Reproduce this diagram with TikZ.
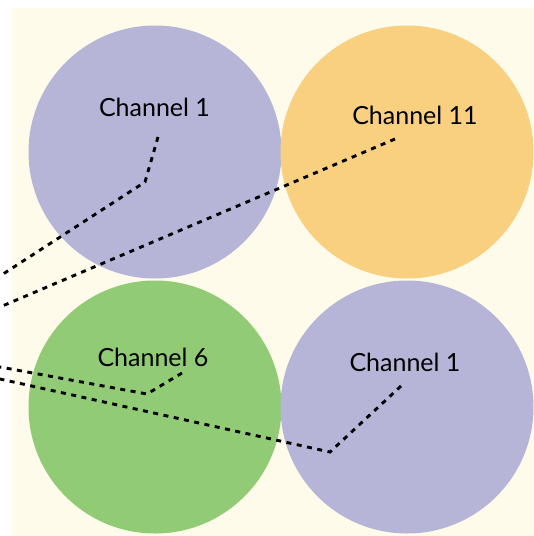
\documentclass[tikz,border=0pt]{standalone}
\usepackage{fontspec}
\setmainfont{Lato}
\usepackage{xcolor}
\usepackage{tikz}
\usetikzlibrary{positioning}
\definecolor{bgpaper}{HTML}{FEFBEA}
\definecolor{chlav}{HTML}{B6B5D8}
\definecolor{chorange}{HTML}{F8D080}
\definecolor{chgreen}{HTML}{91CB76}

\begin{document}
\begin{tikzpicture}[x=1pt,y=-1pt,
  cell/.style={circle,minimum size=253pt,inner sep=0pt},
  chan/.style={font=\fontsize{25}{30}\selectfont,anchor=base,inner sep=0pt},
  link/.style={dash pattern=on 5pt off 5.5pt,line width=2.9pt}]
\useasboundingbox (0,0) rectangle (534,536);
% Background
\fill[bgpaper] (12,8) rectangle (534,536);
% Cells
\node[cell,fill=chlav] (cellA) at (155,152) {};
\node[cell,fill=chorange] (cellB) at (407,152) {};
\node[cell,fill=chgreen] (cellC) at (155,407) {};
\node[cell,fill=chlav] (cellD) at (407,407) {};
% Channel labels
\node[chan] (chA) at (154.5,116) {Channel 1};
\node[chan] (chB) at (415,124) {Channel 11};
\node[chan] (chC) at (153,366) {Channel 6};
\node[chan] (chD) at (405,371) {Channel 1};
% Feed points
\coordinate (tapA) at (158,137);
\coordinate (tapB) at (395,139);
\coordinate (tapC) at (182,373);
\coordinate (tapD) at (401,386);
\coordinate (kinkA) at (145,182);
\coordinate (kinkC) at (147,394);
\coordinate (kinkD) at (330,452);
\coordinate (srcA) at (0,276);
\coordinate (srcB) at (0,307);
\coordinate (srcC) at (0,367);
\coordinate (srcD) at (0,379);
% Dashed feeds
\draw[link] (tapA) -- (kinkA) -- (srcA);
\draw[link] (tapB) -- (srcB);
\draw[link] (tapC) -- (kinkC) -- (srcC);
\draw[link] (tapD) -- (kinkD) -- (srcD);
\end{tikzpicture}
\end{document}
